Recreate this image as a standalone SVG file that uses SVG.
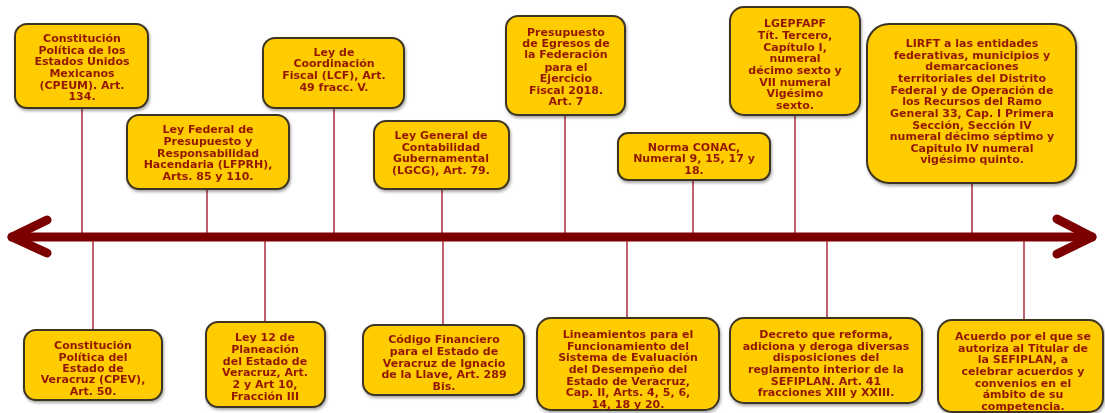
<svg xmlns="http://www.w3.org/2000/svg" width="1105" height="413" viewBox="0 0 1105 413">
<style>
.box{fill:#FFCC00;stroke:#3d3522;stroke-width:2}
.t{font-family:"DejaVu Sans",Verdana,sans-serif;font-weight:bold;font-size:11px;fill:#931800;text-anchor:middle}
.c{stroke:#b03a48;stroke-width:1.6;fill:none}
.ax{stroke:#7d0000;stroke-width:9;fill:none;stroke-linecap:round;stroke-linejoin:round}
</style>
<defs>
<filter id="sh" x="-10%" y="-10%" width="120%" height="130%">
<feDropShadow dx="1" dy="2" stdDeviation="1.5" flood-color="#000" flood-opacity="0.35"/>
</filter>
</defs>
<g id="connectors">
<line class="c" x1="82" y1="108" x2="82" y2="237"/>
<line class="c" x1="207" y1="189" x2="207" y2="237"/>
<line class="c" x1="334" y1="108" x2="334" y2="237"/>
<line class="c" x1="442" y1="189" x2="442" y2="237"/>
<line class="c" x1="565" y1="115" x2="565" y2="237"/>
<line class="c" x1="693" y1="180" x2="693" y2="237"/>
<line class="c" x1="795" y1="115" x2="795" y2="237"/>
<line class="c" x1="972" y1="183" x2="972" y2="237"/>
<line class="c" x1="93" y1="237" x2="93" y2="330"/>
<line class="c" x1="265" y1="237" x2="265" y2="323"/>
<line class="c" x1="443" y1="237" x2="443" y2="326"/>
<line class="c" x1="627" y1="237" x2="627" y2="318"/>
<line class="c" x1="827" y1="237" x2="827" y2="318"/>
<line class="c" x1="1024" y1="237" x2="1024" y2="320"/>
</g>
<g id="axis">
<line class="ax" x1="12" y1="237" x2="1092" y2="237"/>
<polyline class="ax" points="47,220 12,237 47,253"/>
<polyline class="ax" points="1057,219 1092,237 1057,254"/>
</g>
<g id="n1" filter="url(#sh)">
<rect class="box" x="15" y="24" width="133" height="84" rx="12"/>
<text class="t"><tspan x="82" y="42">Constitución</tspan><tspan x="82" y="54">Política  de los</tspan><tspan x="82" y="65">Estados Unidos</tspan><tspan x="82" y="77">Mexicanos</tspan><tspan x="82" y="89">(CPEUM). Art.</tspan><tspan x="82" y="100">134.</tspan></text>
</g>
<g id="n2" filter="url(#sh)">
<rect class="box" x="127" y="115" width="162" height="74" rx="12"/>
<text class="t"><tspan x="208" y="133">Ley Federal de</tspan><tspan x="208" y="145">Presupuesto y</tspan><tspan x="208" y="157">Responsabilidad</tspan><tspan x="208" y="168">Hacendaria (LFPRH),</tspan><tspan x="208" y="180">Arts. 85 y 110.</tspan></text>
</g>
<g id="n3" filter="url(#sh)">
<rect class="box" x="263" y="38" width="141" height="70" rx="12"/>
<text class="t"><tspan x="334" y="56">Ley de</tspan><tspan x="334" y="67">Coordinación</tspan><tspan x="334" y="79">Fiscal (LCF), Art.</tspan><tspan x="334" y="91">49 fracc. V.</tspan></text>
</g>
<g id="n4" filter="url(#sh)">
<rect class="box" x="374" y="121" width="135" height="68" rx="12"/>
<text class="t"><tspan x="441" y="139">Ley General de</tspan><tspan x="441" y="151">Contabilidad</tspan><tspan x="441" y="162">Gubernamental</tspan><tspan x="441" y="174">(LGCG), Art. 79.</tspan></text>
</g>
<g id="n5" filter="url(#sh)">
<rect class="box" x="506" y="16" width="119" height="99" rx="12"/>
<text class="t"><tspan x="566" y="36">Presupuesto</tspan><tspan x="566" y="47">de Egresos de</tspan><tspan x="566" y="58">la Federación</tspan><tspan x="566" y="71">para el</tspan><tspan x="566" y="82">Ejercicio</tspan><tspan x="566" y="94">Fiscal 2018.</tspan><tspan x="566" y="105">Art. 7</tspan></text>
</g>
<g id="n6" filter="url(#sh)">
<rect class="box" x="618" y="133" width="152" height="47" rx="10"/>
<text class="t"><tspan x="694" y="151">Norma CONAC,</tspan><tspan x="694" y="162">Numeral 9, 15, 17 y</tspan><tspan x="694" y="174">18.</tspan></text>
</g>
<g id="n7" filter="url(#sh)">
<rect class="box" x="730" y="7" width="130" height="108" rx="14"/>
<text class="t"><tspan x="795" y="27">LGEPFAPF</tspan><tspan x="795" y="39">Tít. Tercero,</tspan><tspan x="795" y="51">Capítulo I,</tspan><tspan x="795" y="62">numeral</tspan><tspan x="795" y="74">décimo sexto y</tspan><tspan x="795" y="86">VII numeral</tspan><tspan x="795" y="97">Vigésimo</tspan><tspan x="795" y="109">sexto.</tspan></text>
</g>
<g id="n8" filter="url(#sh)">
<rect class="box" x="867" y="24" width="209" height="159" rx="22"/>
<text class="t"><tspan x="972" y="47">LIRFT a las entidades</tspan><tspan x="972" y="59">federativas, municipios  y</tspan><tspan x="972" y="70">demarcaciones</tspan><tspan x="972" y="82">territoriales del Distrito</tspan><tspan x="972" y="94">Federal y de Operación de</tspan><tspan x="972" y="105">los Recursos del Ramo</tspan><tspan x="972" y="117">General 33, Cap. I Primera</tspan><tspan x="972" y="129">Sección, Sección IV</tspan><tspan x="972" y="140">numeral décimo séptimo y</tspan><tspan x="972" y="152">Capitulo IV numeral</tspan><tspan x="972" y="163">vigésimo quinto.</tspan></text>
</g>
<g id="n9" filter="url(#sh)">
<rect class="box" x="24" y="330" width="138" height="70" rx="12"/>
<text class="t"><tspan x="93" y="349">Constitución</tspan><tspan x="93" y="361">Política  del</tspan><tspan x="93" y="372">Estado de</tspan><tspan x="93" y="383">Veracruz (CPEV),</tspan><tspan x="93" y="395">Art. 50.</tspan></text>
</g>
<g id="n10" filter="url(#sh)">
<rect class="box" x="206" y="322" width="119" height="85" rx="12"/>
<text class="t"><tspan x="265" y="341">Ley 12 de</tspan><tspan x="265" y="353">Planeación</tspan><tspan x="265" y="365">del Estado de</tspan><tspan x="265" y="376">Veracruz, Art.</tspan><tspan x="265" y="388">2 y Art 10,</tspan><tspan x="265" y="400">Fracción III</tspan></text>
</g>
<g id="n11" filter="url(#sh)">
<rect class="box" x="363" y="325" width="161" height="70" rx="12"/>
<text class="t"><tspan x="444" y="343">Código Financiero</tspan><tspan x="444" y="355">para el Estado de</tspan><tspan x="444" y="367">Veracruz de Ignacio</tspan><tspan x="444" y="378">de la Llave, Art. 289</tspan><tspan x="444" y="390">Bis.</tspan></text>
</g>
<g id="n12" filter="url(#sh)">
<rect class="box" x="537" y="318" width="182" height="92" rx="14"/>
<text class="t"><tspan x="628" y="338">Lineamientos para el</tspan><tspan x="628" y="350">Funcionamiento  del</tspan><tspan x="628" y="361">Sistema de Evaluación</tspan><tspan x="628" y="373">del Desempeño del</tspan><tspan x="628" y="385">Estado de Veracruz,</tspan><tspan x="628" y="396">Cap. II, Arts.  4, 5, 6,</tspan><tspan x="628" y="408">14, 18 y 20.</tspan></text>
</g>
<g id="n13" filter="url(#sh)">
<rect class="box" x="730" y="318" width="192" height="85" rx="14"/>
<text class="t"><tspan x="826" y="338">Decreto que reforma,</tspan><tspan x="826" y="350">adiciona  y deroga diversas</tspan><tspan x="826" y="361">disposiciones  del</tspan><tspan x="826" y="373">reglamento interior de la</tspan><tspan x="826" y="385">SEFIPLAN. Art. 41</tspan><tspan x="826" y="396">fracciones  XIII y XXIII.</tspan></text>
</g>
<g id="n14" filter="url(#sh)">
<rect class="box" x="938" y="320" width="165" height="92" rx="14"/>
<text class="t"><tspan x="1023" y="340">Acuerdo por el que se</tspan><tspan x="1023" y="352">autoriza al Titular de</tspan><tspan x="1023" y="363">la SEFIPLAN, a</tspan><tspan x="1023" y="375">celebrar acuerdos y</tspan><tspan x="1023" y="387">convenios en el</tspan><tspan x="1023" y="398">ámbito de su</tspan><tspan x="1023" y="410">competencia.</tspan></text>
</g>
</svg>
